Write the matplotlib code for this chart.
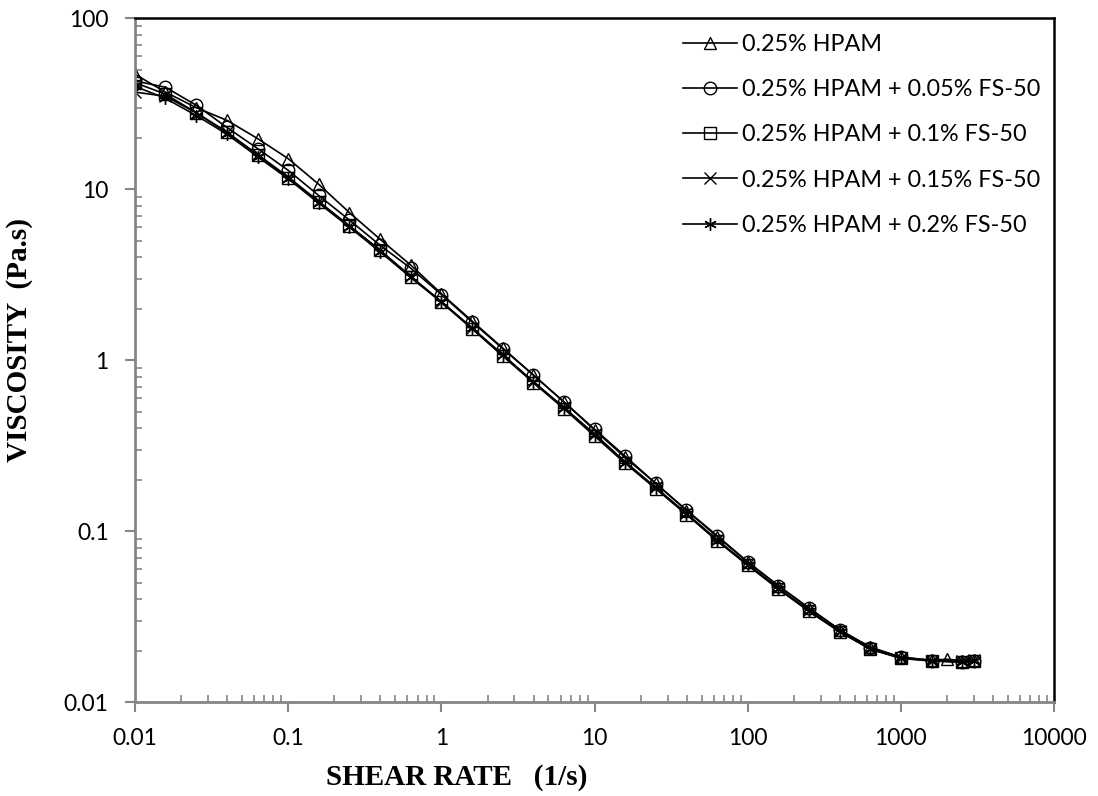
import matplotlib.pyplot as plt
from matplotlib.ticker import FixedLocator, FixedFormatter, LogLocator, NullFormatter

# shear rates (1/s), five points per decade
shear = [0.01, 0.0158, 0.0251, 0.0398, 0.0631, 0.1, 0.158, 0.251, 0.398, 0.631,
         1, 1.58, 2.51, 3.98, 6.31, 10, 15.8, 25.1, 39.8, 63.1,
         100, 158, 251, 398, 631, 1000, 1585]
tail_hpam = [2000, 2512, 3000]
tail_fs = [2512, 3000]

visc_hpam = [47, 37, 30, 25.3, 19.8, 15.1, 10.7, 7.3, 5.1, 3.6,
             2.45, 1.70, 1.18, 0.82, 0.57, 0.39, 0.27, 0.19, 0.132, 0.093,
             0.066, 0.048, 0.0355, 0.0265, 0.021, 0.0183, 0.0176,
             0.0178, 0.0175, 0.0177]
visc_fs005 = [43, 39.5, 31, 23, 17.3, 12.9, 9.2, 6.6, 4.7, 3.45,
              2.42, 1.68, 1.17, 0.82, 0.57, 0.395, 0.275, 0.19, 0.133, 0.094,
              0.066, 0.048, 0.0355, 0.0265, 0.0208, 0.0183, 0.0175,
              0.0172, 0.0174]
visc_fs01 = [42, 36, 28, 21.6, 15.8, 11.7, 8.4, 6.1, 4.4, 3.05,
             2.18, 1.53, 1.06, 0.74, 0.52, 0.36, 0.25, 0.177, 0.125, 0.088,
             0.063, 0.046, 0.034, 0.0258, 0.0204, 0.0181, 0.0174,
             0.0172, 0.0173]
visc_fs015 = [37, 35, 28, 21.5, 16, 11.8, 8.5, 6.1, 4.4, 3.1,
              2.2, 1.55, 1.08, 0.75, 0.53, 0.37, 0.255, 0.18, 0.127, 0.089,
              0.064, 0.0465, 0.0345, 0.026, 0.0205, 0.0182, 0.0175,
              0.0173, 0.0176]
visc_fs02 = [40, 34, 27, 21, 15.5, 11.5, 8.3, 6.0, 4.3, 3.05,
             2.2, 1.54, 1.07, 0.745, 0.525, 0.365, 0.252, 0.178, 0.126, 0.088,
             0.0635, 0.046, 0.034, 0.0258, 0.0204, 0.018, 0.0174,
             0.0171, 0.0175]

labels = ['0.25% HPAM',
          '0.25% HPAM + 0.05% FS-50',
          '0.25% HPAM + 0.1% FS-50',
          '0.25% HPAM + 0.15% FS-50',
          '0.25% HPAM + 0.2% FS-50']

series = [
    (shear + tail_hpam, visc_hpam, '^'),
    (shear + tail_fs, visc_fs005, 'o'),
    (shear + tail_fs, visc_fs01, 's'),
    (shear + tail_fs, visc_fs015, 'x'),
    (shear + tail_fs, visc_fs02, (6, 2, 0)),
]

fig = plt.figure(figsize=(10.98, 7.96), dpi=100)
ax = fig.add_axes([0.123, 0.118, 0.837, 0.859])

for (x, y, m), lab in zip(series, labels):
    ax.plot(x, y, color='black', lw=1.2, marker=m, markersize=9,
            fillstyle='none', markeredgewidth=1.0, label=lab)

ax.set_xscale('log')
ax.set_yscale('log')
ax.set_xlim(0.01, 10000)
ax.set_ylim(0.01, 100)

xt = [0.01, 0.1, 1, 10, 100, 1000, 10000]
yt = [0.01, 0.1, 1, 10, 100]
ax.xaxis.set_major_locator(FixedLocator(xt))
ax.xaxis.set_major_formatter(FixedFormatter(['0.01', '0.1', '1', '10', '100', '1000', '10000']))
ax.yaxis.set_major_locator(FixedLocator(yt))
ax.yaxis.set_major_formatter(FixedFormatter(['0.01', '0.1', '1', '10', '100']))
ax.xaxis.set_minor_locator(LogLocator(base=10, subs=range(2, 10), numticks=20))
ax.yaxis.set_minor_locator(LogLocator(base=10, subs=range(2, 10), numticks=20))
ax.xaxis.set_minor_formatter(NullFormatter())
ax.yaxis.set_minor_formatter(NullFormatter())

gray = '#868686'
ax.tick_params(which='major', direction='out', length=7, width=1.5, color=gray,
               labelsize=16.5, labelcolor='black', pad=12)
ax.tick_params(which='minor', direction='in', length=5, width=1.2, color=gray)
ax.tick_params(top=False, right=False, which='both')
for lab in ax.get_xticklabels() + ax.get_yticklabels():
    lab.set_fontfamily('Lato')

for side in ('left', 'bottom'):
    ax.spines[side].set_color(gray)
    ax.spines[side].set_linewidth(2)
for side in ('top', 'right'):
    ax.spines[side].set_color('black')
    ax.spines[side].set_linewidth(1.8)

ax.set_xlabel('SHEAR RATE   (1/s)', fontsize=21, fontweight='bold',
              family='Liberation Serif')
ax.xaxis.set_label_coords(0.35, -0.091)
ax.set_ylabel('VISCOSITY  (Pa.s)', fontsize=21, fontweight='bold',
              family='Liberation Serif')
ax.yaxis.set_label_coords(-0.111, 0.53)

leg = ax.legend(loc='upper left', bbox_to_anchor=(0.573, 1.008), frameon=False,
                prop={'family': 'Lato', 'size': 16.8}, handlelength=2.35,
                handletextpad=0.2, labelspacing=1.04)

fig.savefig('out.png', dpi=100)
